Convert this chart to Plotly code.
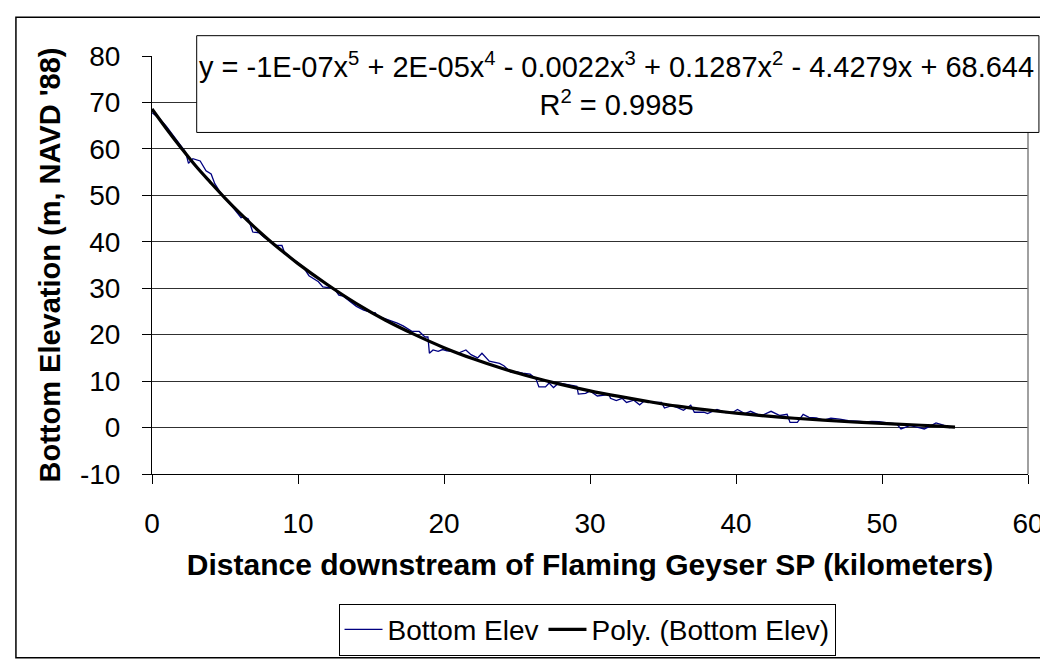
import plotly.graph_objects as go

# ---- data ----
dist_km = [0, 0.5, 1.0, 1.5, 1.9, 2.3, 2.5, 2.8, 3.3, 3.7, 4.05, 4.3, 4.6, 4.9, 5.2, 5.5, 5.8, 6.1, 6.3, 6.6,
           6.9, 7.35, 7.7, 8.0, 8.4, 8.9, 9.05, 9.5, 10.0, 10.4, 10.75, 11.1, 11.4, 11.7, 12.2, 12.55, 12.8, 13.1,
           13.5, 14.0, 14.5, 15.0, 15.3, 15.4, 15.8, 16.1, 16.4, 16.8, 17.2, 17.8, 18.3, 18.7, 18.9, 19.0, 19.25,
           19.6, 19.9, 20.2, 20.6, 20.95, 21.5, 21.85, 22.3, 22.6, 23.1, 23.55, 23.8, 24.1, 24.6, 25.0, 25.4,
           25.9, 26.3, 26.5, 26.95, 27.2, 27.5, 27.86, 28.4, 29.1, 29.2, 29.7, 30.0, 30.5, 31.0, 31.3, 31.4, 31.8,
           32.2, 32.5, 33.0, 33.4, 33.75, 34.3, 34.9, 35.1, 35.6, 36.0, 36.4, 36.9, 37.15, 37.8, 38.05, 38.7,
           39.3, 39.8, 40.1, 40.6, 41.0, 41.7, 42.4, 43.0, 43.5, 43.7, 44.2, 44.6, 45.0, 45.5, 46.0, 46.5, 47.1,
           47.7, 48.3, 48.9, 49.3, 49.8, 50.4, 51.0, 51.3, 51.9, 52.4, 52.9, 53.3, 53.7, 54.2, 54.6, 54.9]
bottom_elev = [67.8, 66.6, 64.8, 62.6, 60.8, 59.3, 56.9, 57.9, 57.4, 55.3, 54.6, 52.5, 51.0, 49.7, 48.6, 47.6,
               46.5, 45.2, 45.4, 44.9, 42.1, 41.9, 40.9, 40.3, 39.3, 39.2, 37.9, 36.6, 35.5, 34.4, 32.7, 32.0,
               31.4, 30.3, 30.1, 29.6, 28.5, 28.3, 27.3, 26.1, 25.3, 24.8, 24.7, 24.0, 23.6, 23.3, 23.0, 22.5,
               21.9, 20.7, 20.7, 19.5, 19.5, 16.0, 16.7, 16.4, 16.8, 16.5, 16.4, 16.0, 16.7, 15.7, 15.0, 16.0,
               14.3, 14.0, 13.8, 13.3, 11.9, 12.0, 11.7, 11.5, 10.5, 8.75, 8.75, 9.6, 8.6, 9.6, 9.3, 8.9, 7.2,
               7.35, 7.9, 6.8, 7.0, 7.2, 6.3, 5.8, 6.3, 5.4, 5.9, 4.9, 5.8, 5.4, 5.4, 4.2, 4.7, 4.3, 3.7, 4.8,
               3.3, 3.3, 3.0, 3.9, 3.2, 3.3, 3.9, 3.0, 3.5, 2.5, 3.5, 2.6, 2.85, 1.1, 1.1, 2.85, 2.2, 2.1, 1.6,
               2.0, 1.8, 1.5, 1.4, 1.2, 1.3, 1.25, 1.0, 0.8, -0.3, 0.4, 0.1, -0.3, 0.3, 1.0, 0.5, 0.0, 0.1]

trend_km = [0, 1, 2, 3, 4, 5, 6, 7, 8, 9, 10, 12, 14, 16, 18, 20, 22, 24, 26, 28, 30, 32, 34, 36, 38, 40,
            42, 44, 46, 48, 50, 52, 54, 55]
trend_elev = [68.6, 64.3, 60.2, 56.3, 52.8, 49.4, 46.2, 43.2, 40.4, 37.8, 35.3, 30.8, 26.7, 23.1, 20.0, 17.2,
              14.8, 12.7, 10.9, 9.3, 7.9, 6.7, 5.6, 4.6, 3.8, 3.1, 2.5, 2.0, 1.6, 1.2, 0.9, 0.6, 0.3, 0.1]

x_ticks = [0, 10, 20, 30, 40, 50, 60]
y_ticks = [-10, 0, 10, 20, 30, 40, 50, 60, 70, 80]
y_tick_labels = ["-10", "0", "10", "20", "30", "40", "50", "60", "70", "80"]

equation_text = ("y = -1E-07x<sup>5</sup> + 2E-05x<sup>4</sup> - 0.0022x<sup>3</sup> + 0.1287x<sup>2</sup>"
                 " - 4.4279x + 68.644<br>R<sup>2</sup> = 0.9985")

FONT = "Liberation Sans, Arial, sans-serif"

fig = go.Figure()
fig.add_trace(go.Scatter(x=dist_km, y=bottom_elev, mode="lines", name="Bottom Elev",
                         line=dict(color="#000080", width=1.3)))
fig.add_trace(go.Scatter(x=trend_km, y=trend_elev, mode="lines", name="Poly. (Bottom Elev)",
                         line=dict(color="#000000", width=3.2, shape="spline")))

W, H = 1048, 660
L, R, T, B = 144, 22, 48, 180
pw, ph = W - L - R, H - T - B


def px(xp):
    return (xp - L) / pw


def py(yp):
    return (H - B - yp) / ph


fig.update_layout(
    width=W, height=H, autosize=False,
    margin=dict(l=L, r=R, t=T, b=B),
    paper_bgcolor="white", plot_bgcolor="white",
    font=dict(family=FONT, color="black", size=28),
    showlegend=True,
    legend=dict(orientation="h", x=px(582), xanchor="center", y=py(614), yanchor="top",
                bordercolor="black", borderwidth=1, bgcolor="white",
                font=dict(size=28, family=FONT, color="black"), itemwidth=38, tracegroupgap=0),
    xaxis=dict(range=[0, 60], tickvals=x_ticks, showgrid=False, zeroline=False,
               showline=True, linecolor="black", linewidth=1,
               ticks="outside", ticklen=9, tickcolor="black", tickwidth=1,
               tickfont=dict(size=28, family=FONT, color="black"), ticklabelstandoff=15,
               title=dict(text="<b>Distance downstream of Flaming Geyser SP (kilometers)</b>",
                          font=dict(size=30, family=FONT, color="black"), standoff=16)),
    yaxis=dict(range=[-10, 80], tickvals=y_ticks, ticktext=y_tick_labels,
               showgrid=True, gridcolor="#303030", gridwidth=1,
               zeroline=False, showline=True, linecolor="black", linewidth=1,
               ticks="outside", ticklen=9, tickcolor="black", tickwidth=1,
               tickfont=dict(size=28, family=FONT, color="black"), ticklabelstandoff=16,
               title=dict(text="<b>Bottom Elevation (m, NAVD '88)</b>",
                          font=dict(size=29, family=FONT, color="black"), standoff=10)),
)

shapes = [
    # outer chart border
    dict(type="rect", xref="paper", yref="paper", x0=px(7), x1=px(1046), y0=py(670), y1=py(8),
         line=dict(color="black", width=1.5), layer="below"),
    # right plot-area border (gray)
    dict(type="line", xref="paper", yref="paper", x0=1, x1=1, y0=0, y1=1,
         line=dict(color="#808080", width=1.5), layer="above"),
    # equation box
    dict(type="rect", xref="paper", yref="paper", x0=px(189), x1=px(1037), y0=py(127), y1=py(27),
         line=dict(color="black", width=1), fillcolor="white", layer="above"),
]
fig.update_layout(shapes=shapes)

fig.add_annotation(xref="paper", yref="paper", x=px(612), y=py(77), text=equation_text,
                   showarrow=False, align="center", xanchor="center", yanchor="middle",
                   font=dict(size=29, family=FONT, color="black"))

fig.write_html("out.html")
